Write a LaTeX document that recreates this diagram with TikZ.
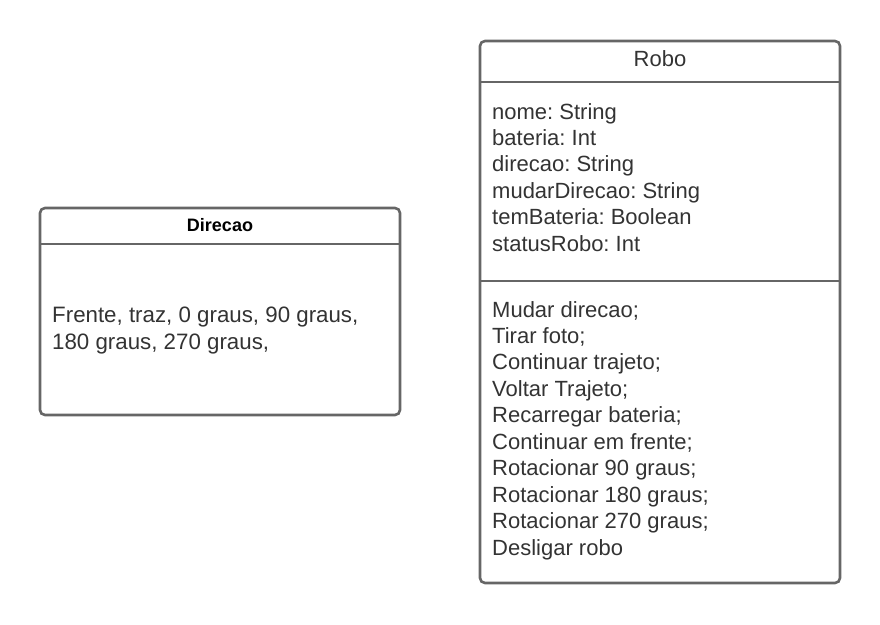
\documentclass[tikz,border=0pt]{standalone}
\usepackage{fontspec}
\setmainfont{Liberation Sans}
\frenchspacing
\begin{document}
\begin{tikzpicture}[x=1pt,y=-1pt,
  frame/.style={draw=boxgray,line width=2.6pt,rounded corners=5pt},
  divider/.style={draw=boxgray,line width=2.6pt},
  entry/.style={anchor=base west,inner sep=0pt,text=txt,font=\fontsize{22}{26}\selectfont},
  bigentry/.style={entry,font=\fontsize{22.3}{26}\selectfont},
  title/.style={anchor=base,inner sep=0pt,text=txt,font=\fontsize{22}{26}\selectfont},
  boldtitle/.style={anchor=base,inner sep=0pt,text=black,font=\fontsize{18}{22}\selectfont\bfseries}]
\definecolor{boxgray}{HTML}{666666}
\definecolor{txt}{HTML}{333333}
\useasboundingbox (0,0) rectangle (880,624);

% Direcao class
\draw[frame] (40,208) rectangle (400,415);
\draw[divider] (40,244) -- (400,244);
\node[boldtitle] (dtitle) at (220,231.5) {Direcao};
\node[bigentry] (d1) at (52,322.5) {Frente, traz, 0 graus, 90 graus,};
\node[bigentry] (d2) at (52,349) {180 graus, 270 graus,};

% Robo class
\draw[frame] (480,41) rectangle (840,583);
\draw[divider] (480,82) -- (840,82);
\draw[divider] (480,281) -- (840,281);
\node[title] (rtitle) at (660,66) {Robo};

\foreach \t [count=\i from 0] in {nome: String, bateria: Int, direcao: String,
    mudarDirecao: String, temBateria: Boolean, statusRobo: Int}
  \node[entry] (attr\i) at (492,119+26.4*\i) {\t};

\foreach \t [count=\i from 0] in {Mudar direcao;, Tirar foto;, Continuar trajeto;,
    Voltar Trajeto;, Recarregar bateria;, Continuar em frente;, Rotacionar 90 graus;,
    Rotacionar 180 graus;, Rotacionar 270 graus;, Desligar robo}
  \node[entry] (op\i) at (492,317+26.45*\i) {\t};
\end{tikzpicture}
\end{document}
